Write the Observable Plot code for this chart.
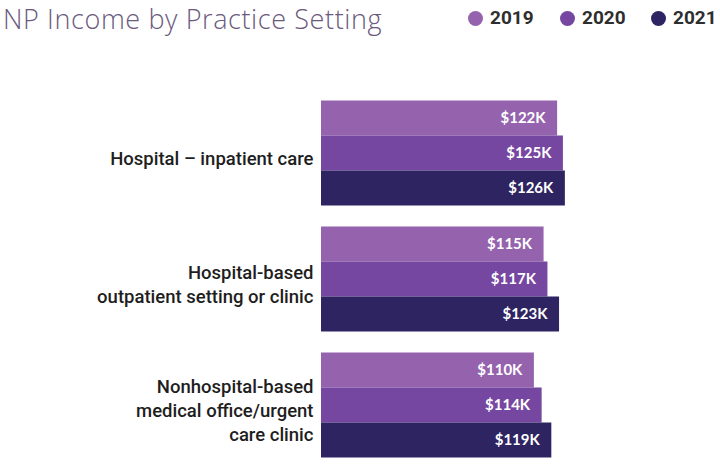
<!DOCTYPE html>
<html>
<head>
<meta charset="utf-8">
<script src="https://cdn.jsdelivr.net/npm/d3@7"></script>
<script src="https://cdn.jsdelivr.net/npm/@observablehq/plot@0.6"></script>
<style>
  html, body { margin: 0; padding: 0; background: #ffffff; }
  #wrap { position: relative; width: 720px; height: 468px; overflow: hidden; }
  #title { position: absolute; left: 3px; top: 0; font-family: "Open Sans", sans-serif; font-weight: 300; font-size: 27px; letter-spacing: 0.6px; color: #6a5a7e; white-space: nowrap; }
  #legend { position: absolute; top: 0; left: 0; width: 720px; height: 30px; font-family: Roboto, sans-serif; font-weight: 700; font-size: 19px; line-height: 20px; color: #2e2e2e; }
  .li { position: absolute; top: 8px; display: flex; align-items: center; }
  .dot { width: 15px; height: 15px; border-radius: 50%; margin-right: 7px; }
  #chart { position: absolute; left: 0; top: 0; }
</style>
</head>
<body>
<div id="wrap">
  <div id="chart"></div>
  <div id="title">NP Income by Practice Setting</div>
  <div id="legend"></div>
</div>
<script>
const categories = [
  "Hospital – inpatient care",
  "Hospital-based\noutpatient setting or clinic",
  "Nonhospital-based\nmedical office/urgent\ncare clinic"
];
const years = ["2019", "2020", "2021"];
const values2019 = [122, 115, 110];
const values2020 = [125, 117, 114];
const values2021 = [126, 123, 119];
const colors = ["#9563ae", "#7647a1", "#2e2462"];

const series = [values2019, values2020, values2021];
const data = [];
categories.forEach((c, i) => {
  years.forEach((y, j) => data.push({category: c, year: y, value: series[j][i]}));
});

const legendX = [468, 560, 651];
const legend = document.getElementById("legend");
years.forEach((y, j) => {
  const el = document.createElement("div");
  el.className = "li";
  el.style.left = legendX[j] + "px";
  el.innerHTML = `<span class="dot" style="background:${colors[j]}"></span><span>${y}</span>`;
  legend.appendChild(el);
});

const chart = Plot.plot({
  width: 720,
  height: 468,
  marginTop: 99.5,
  marginBottom: 10,
  marginLeft: 321,
  marginRight: 147.4,
  x: {domain: [0, 130], axis: null},
  y: {domain: years, axis: null, paddingInner: 0, paddingOuter: 0},
  fy: {domain: categories, axis: null, paddingInner: 0.162, paddingOuter: 0},
  color: {domain: years, range: colors},
  marks: [
    Plot.barX(data, {x: "value", y: "year", fy: "category", fill: "year"}),
    Plot.text(data, {
      x: "value", y: "year", fy: "category",
      text: d => `$${d.value}K`,
      textAnchor: "end", dx: -12,
      fill: "white", fontWeight: 700, fontSize: 15,
      fontFamily: "Lato, 'Open Sans', sans-serif"
    }),
    Plot.text(categories, {
      fy: d => d, text: d => d,
      frameAnchor: "left", textAnchor: "end", dx: -8, dy: 4,
      lineHeight: 1.3,
      fill: "#1e1e1e", fontSize: 18.5, fontWeight: 500,
      fontFamily: "Roboto, sans-serif"
    })
  ]
});
chart.style.fontFamily = "Roboto, sans-serif";
document.getElementById("chart").appendChild(chart);
</script>
</body>
</html>
